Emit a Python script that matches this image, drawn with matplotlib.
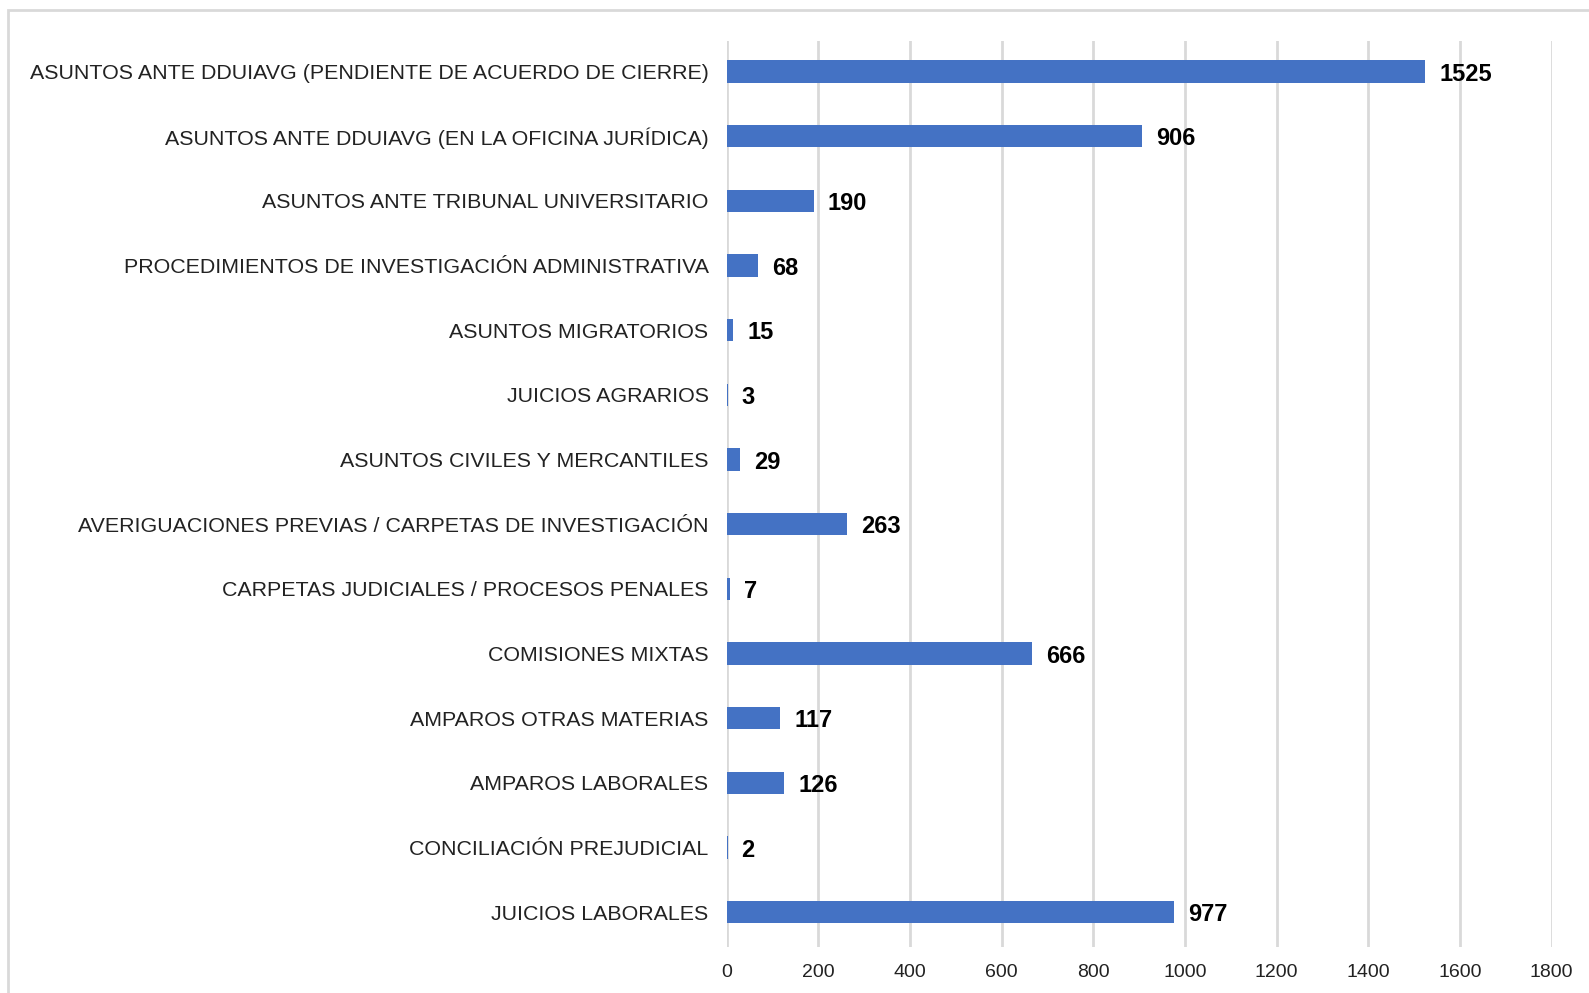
import matplotlib
matplotlib.use("Agg")
import matplotlib.pyplot as plt
from matplotlib.patches import Rectangle

categories = [
    "ASUNTOS ANTE DDUIAVG (PENDIENTE DE ACUERDO DE CIERRE)",
    "ASUNTOS ANTE DDUIAVG (EN LA OFICINA JURÍDICA)",
    "ASUNTOS ANTE TRIBUNAL UNIVERSITARIO",
    "PROCEDIMIENTOS DE INVESTIGACIÓN ADMINISTRATIVA",
    "ASUNTOS MIGRATORIOS",
    "JUICIOS AGRARIOS",
    "ASUNTOS CIVILES Y MERCANTILES",
    "AVERIGUACIONES PREVIAS / CARPETAS DE INVESTIGACIÓN",
    "CARPETAS JUDICIALES / PROCESOS PENALES",
    "COMISIONES MIXTAS",
    "AMPAROS OTRAS MATERIAS",
    "AMPAROS LABORALES",
    "CONCILIACIÓN PREJUDICIAL",
    "JUICIOS LABORALES",
]
values = [1525, 906, 190, 68, 15, 3, 29, 263, 7, 666, 117, 126, 2, 977]
x_ticks = [0, 200, 400, 600, 800, 1000, 1200, 1400, 1600, 1800]

plt.rcParams['font.family'] = ['Liberation Sans', 'DejaVu Sans']

W, H = 1589, 993
fig = plt.figure(figsize=(W / 100, H / 100), dpi=100)
ax = fig.add_axes([726.6 / W, 1 - 947 / H, (1551.5 - 726.6) / W, (947 - 40.5) / H])

# outer light frame (cut off on right/bottom like the screenshot)
fig.patches.append(Rectangle((8 / W, -0.1), 1.2, 1 - 10 / H + 0.1, transform=fig.transFigure,
                             fill=False, edgecolor="#d9d9d9", linewidth=2, zorder=0))

y = list(range(len(categories)))
ax.barh(y, values, height=0.345, color="#4472C4", zorder=3)

for yi, v in zip(y, values):
    ax.annotate(str(v), (v, yi), xytext=(10, -2), textcoords="offset points",
                va="center", ha="left", fontsize=17, fontweight="bold", color="#000000")

ax.set_ylim(len(categories) - 0.46, -0.48)
ax.set_xlim(0, 1800)
ax.set_xticks(x_ticks)
ax.set_xticklabels([str(t) for t in x_ticks], fontsize=14, color="#222222")
ax.set_yticks(y)
ax.set_yticklabels(categories, fontsize=15.4, color="#222222")
ax.tick_params(axis="both", length=0)
ax.tick_params(axis="x", pad=12)
ax.tick_params(axis="y", pad=13)

ax.grid(axis="x", color="#d9d9d9", linewidth=2, zorder=0)
for s in ax.spines.values():
    s.set_visible(False)

fig.savefig("out.png", dpi=100)
